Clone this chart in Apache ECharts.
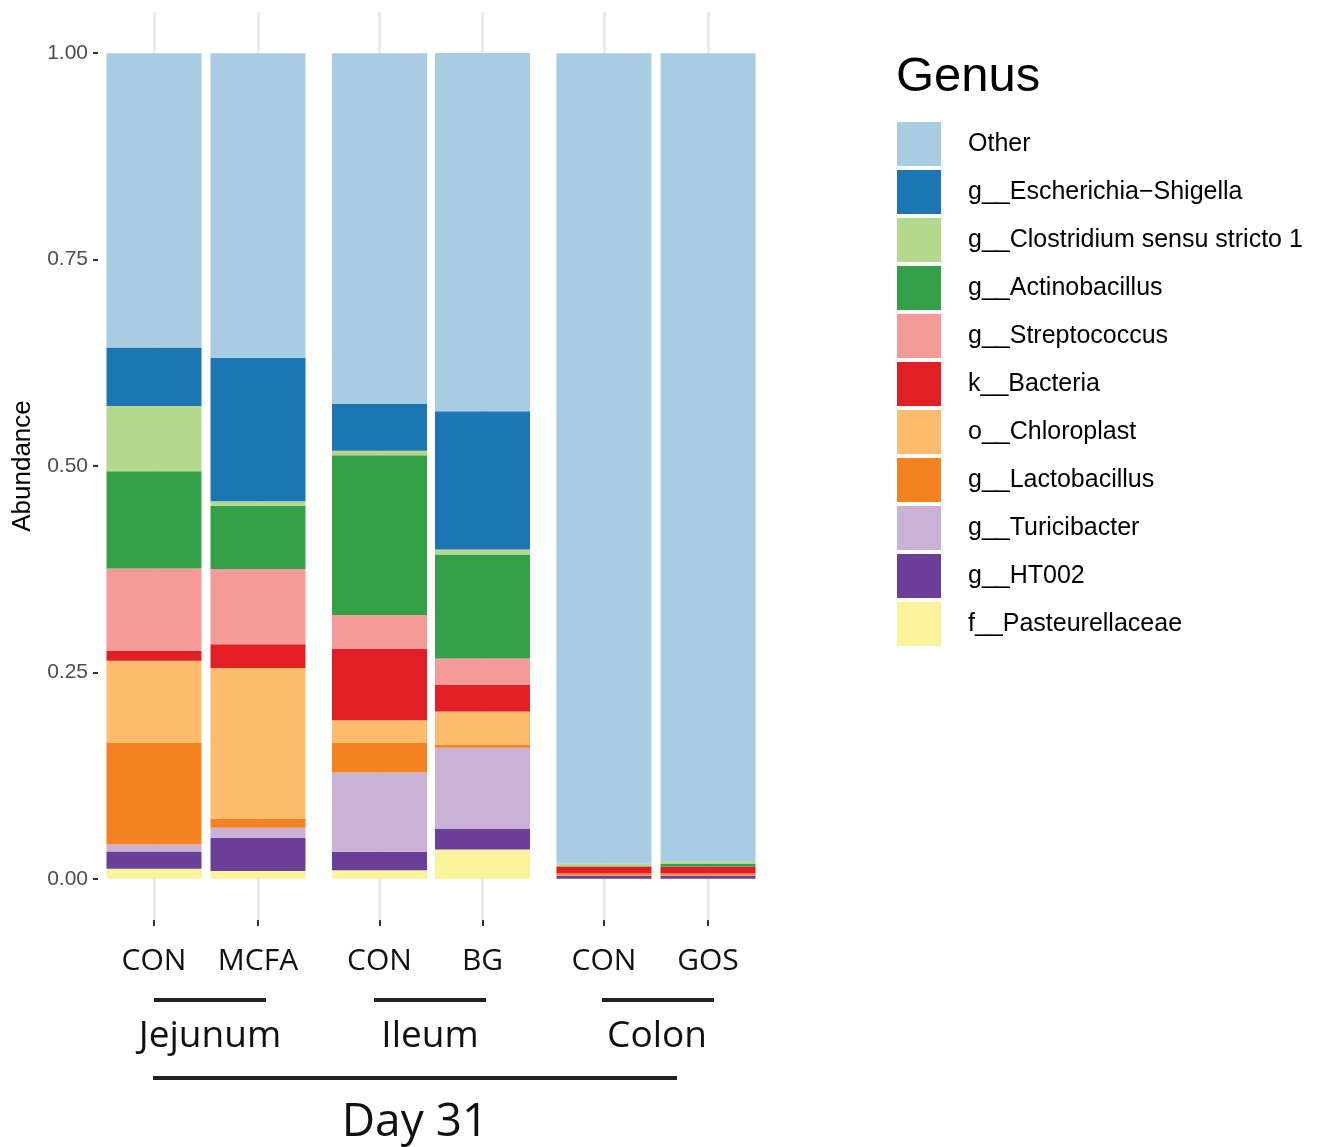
<!DOCTYPE html>
<html><head><meta charset="utf-8">
<script src="https://cdn.jsdelivr.net/npm/echarts@6/dist/echarts.min.js"></script>
<style>html,body{margin:0;padding:0;background:#fff}#c{width:1319px;height:1147px}</style>
</head><body><div id="c"></div>
<script>
// ---- data ----
const panels = ['Jejunum', 'Ileum', 'Colon'];
const panelSamples = [['CON', 'MCFA'], ['CON', 'BG'], ['CON', 'GOS']];
const groupLabel = 'Day 31';
const genera = ['Other', 'g__Escherichia\u2212Shigella', 'g__Clostridium sensu stricto 1', 'g__Actinobacillus',
  'g__Streptococcus', 'k__Bacteria', 'o__Chloroplast', 'g__Lactobacillus', 'g__Turicibacter', 'g__HT002', 'f__Pasteurellaceae'];
const colors = ['#A8CDE2', '#1C76B4', '#B4D98C', '#34A048', '#F49A99', '#E21F26', '#FCBB6D', '#F58220', '#C9B2D6', '#6B3F98', '#F9F49B'];
// abundance per sample: Jejunum CON, Jejunum MCFA, Ileum CON, Ileum BG, Colon CON, Colon GOS
const other           = [0.3563, 0.3692, 0.4250, 0.4338, 0.9818, 0.9794];
const escherichia     = [0.0710, 0.1735, 0.0565, 0.1676, 0.0002, 0.0000];
const clostridium     = [0.0790, 0.0053, 0.0056, 0.0061, 0.0028, 0.0028];
const actinobacillus  = [0.1180, 0.0766, 0.1933, 0.1259, 0.0003, 0.0030];
const streptococcus   = [0.0996, 0.0912, 0.0412, 0.0322, 0.0000, 0.0000];
const bacteria        = [0.0120, 0.0287, 0.0863, 0.0320, 0.0082, 0.0085];
const chloroplast     = [0.0996, 0.1824, 0.0278, 0.0407, 0.0000, 0.0000];
const lactobacillus   = [0.1230, 0.0113, 0.0356, 0.0033, 0.0028, 0.0025];
const turicibacter    = [0.0085, 0.0121, 0.0960, 0.0984, 0.0003, 0.0002];
const ht002           = [0.0210, 0.0403, 0.0224, 0.0247, 0.0036, 0.0036];
const pasteurellaceae = [0.0120, 0.0093, 0.0103, 0.0355, 0.0000, 0.0000];

const values = [other, escherichia, clostridium, actinobacillus, streptococcus, bacteria,
  chloroplast, lactobacillus, turicibacter, ht002, pasteurellaceae];

// ---- layout ----
const panelGrids = [{ left: 102, width: 208 }, { left: 328, width: 206 }, { left: 552, width: 208 }];
const grids = panelGrids.map(g => ({ left: g.left, width: g.width, top: 12, bottom: 227 }));
grids.push({ left: 98, width: 2, top: 53, bottom: 268 });

const xAxes = panelGrids.map((g, p) => ({
  type: 'category', gridIndex: p, data: panelSamples[p],
  axisLine: { show: false, onZero: false },
  axisTick: { show: true, alignWithLabel: true, length: 6, lineStyle: { color: '#333', width: 2 } },
  axisLabel: { fontSize: 30, fontFamily: 'Open Sans', color: '#111', margin: 26, interval: 0, hideOverlap: false },
  splitLine: { show: true, alignWithLabel: true, lineStyle: { color: '#EBEBEB', width: 3 } }
}));
xAxes.push({ type: 'value', gridIndex: 3, show: false, min: 0, max: 1 });

const yAxes = panelGrids.map((g, p) => ({ type: 'value', gridIndex: p, min: -0.05, max: 1.05, show: false }));
yAxes.push({
  type: 'value', gridIndex: 3, min: 0, max: 1, interval: 0.25,
  axisLine: { show: false },
  axisTick: { show: true, length: 5, lineStyle: { color: '#333', width: 2 } },
  axisLabel: { formatter: v => v.toFixed(2), fontSize: 21, color: '#4D4D4D', fontFamily: 'Liberation Sans', margin: 10, padding: [3, 0, 0, 0] },
  splitLine: { show: false },
  name: 'Abundance', nameLocation: 'middle', nameGap: 62,
  nameTextStyle: { fontSize: 26, color: '#000', fontFamily: 'Liberation Sans' }
});

const series = [];
for (let g = genera.length - 1; g >= 0; g--) {
  for (let p = 0; p < panels.length; p++) {
    series.push({
      type: 'bar', name: genera[g], xAxisIndex: p, yAxisIndex: p, stack: 'panel' + p,
      barWidth: 95,
      data: [values[g][2 * p], values[g][2 * p + 1]],
      itemStyle: { color: colors[g] },
      emphasis: { disabled: true }
    });
  }
}

const graphics = [];
const subLines = [[154, 266], [374, 486], [602, 714]];
const subCenters = [210, 430, 657];
subLines.forEach((l, i) => {
  graphics.push({ type: 'line', shape: { x1: l[0], y1: 1000, x2: l[1], y2: 1000 }, style: { stroke: '#222', lineWidth: 4 } });
  graphics.push({ type: 'text', x: subCenters[i], y: 1036, style: { text: panels[i], font: '37px "Open Sans"', fill: '#111', textAlign: 'center', textVerticalAlign: 'middle' } });
});
graphics.push({ type: 'line', shape: { x1: 153, y1: 1078, x2: 677, y2: 1078 }, style: { stroke: '#222', lineWidth: 4 } });
graphics.push({ type: 'text', x: 415, y: 1123, style: { text: groupLabel, font: '46px "Open Sans"', fill: '#111', textAlign: 'center', textVerticalAlign: 'middle' } });
graphics.push({ type: 'text', x: 896, y: 77, style: { text: 'Genus', font: '49px "Liberation Sans"', fill: '#000', textAlign: 'left', textVerticalAlign: 'middle' } });

const chart = echarts.init(document.getElementById('c'), null, { renderer: 'canvas' });
chart.setOption({
  animation: false,
  backgroundColor: '#fff',
  grid: grids,
  xAxis: xAxes,
  yAxis: yAxes,
  legend: {
    orient: 'vertical', left: 897, top: 122, padding: 0, itemWidth: 44, itemHeight: 44, itemGap: 4,
    icon: 'rect', selectedMode: false, data: genera,
    textStyle: { fontSize: 25, fontFamily: 'Liberation Sans', color: '#000', padding: [5, 0, 0, 22] }
  },
  graphic: graphics,
  series: series
});
</script></body></html>
